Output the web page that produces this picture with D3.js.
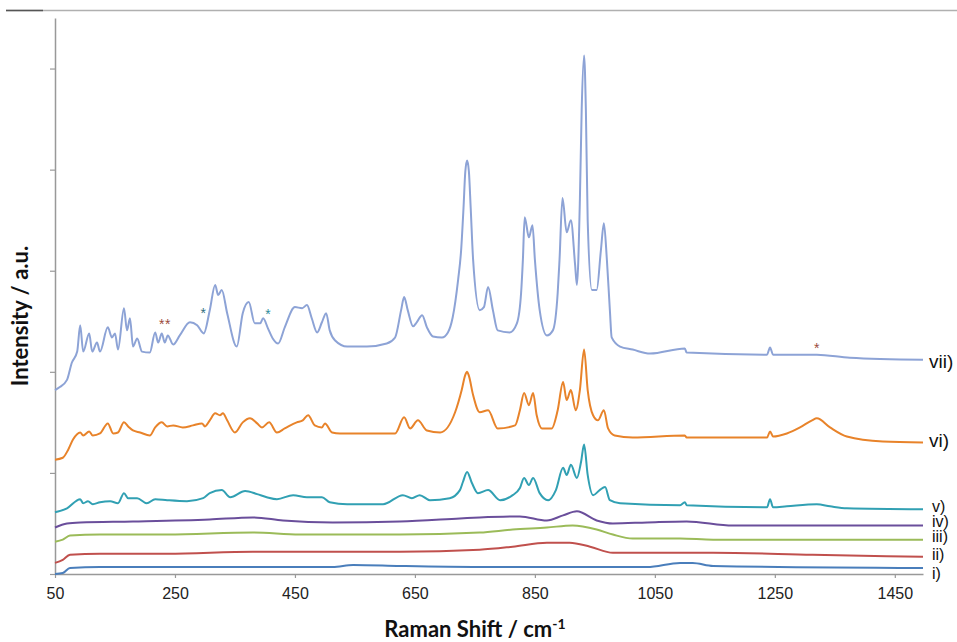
<!DOCTYPE html>
<html>
<head>
<meta charset="utf-8">
<script src="https://cdn.jsdelivr.net/npm/d3@7"></script>
<style>
  body { margin: 0; background: #fff; }
  .tick text { font-family: "Liberation Sans", Arial, sans-serif; font-size: 16px; fill: #222; }
  .axis-title { font-family: Lato, "Open Sans", sans-serif; font-weight: bold; font-size: 22px; fill: #111; }
  .series-label { font-family: "Liberation Sans", Arial, sans-serif; fill: #111; }
</style>
</head>
<body>
<div id="chart"></div>
<script>
// spectra: [Raman shift (cm-1), intensity (a.u., offset stacked)]
var specI = [[50,0.00],[63,0.01],[75,0.06],[125,0.07],[308,0.07],[513,0.07],[547,0.09],[625,0.08],
  [758,0.07],[1037,0.07],[1092,0.11],[1113,0.11],[1147,0.08],[1497,0.06]];

var specII = [[50,0.11],[63,0.14],[75,0.19],[125,0.20],[237,0.20],[380,0.22],[625,0.22],[758,0.24],
  [813,0.27],[870,0.31],[908,0.31],[942,0.27],[980,0.21],[1037,0.21],[1147,0.21],[1313,0.19],[1497,0.17]];

var specIII = [[50,0.32],[63,0.34],[75,0.38],[125,0.39],[237,0.39],[380,0.41],[458,0.39],[625,0.39],
  [758,0.41],[813,0.44],[870,0.46],[913,0.48],[953,0.44],[980,0.39],[1013,0.35],[1092,0.35],[1147,0.34],[1497,0.34]];

var specIV = [[50,0.46],[70,0.50],[92,0.51],[180,0.52],[308,0.54],[380,0.56],[430,0.53],[513,0.51],
  [625,0.52],[725,0.55],[758,0.56],[825,0.57],[870,0.53],[897,0.58],[920,0.62],[953,0.53],[980,0.50],
  [1037,0.51],[1103,0.52],[1180,0.48],[1313,0.48],[1497,0.48]];

var specV = [[50,0.61],[70,0.65],[92,0.74],[97,0.70],[105,0.72],[113,0.69],[125,0.71],[142,0.72],[155,0.70],
  [165,0.80],[172,0.75],[187,0.75],[203,0.70],[217,0.74],[237,0.73],[270,0.72],[297,0.75],[308,0.80],
  [328,0.83],[342,0.76],[367,0.82],[387,0.79],[403,0.76],[420,0.74],[447,0.78],[470,0.76],[495,0.76],
  [508,0.71],[537,0.69],[597,0.69],[630,0.78],[645,0.75],[658,0.78],[675,0.73],[708,0.75],[725,0.83],
  [730,0.91],[737,1.01],[745,0.90],[755,0.80],[772,0.83],[792,0.73],[813,0.78],[825,0.85],[832,0.95],
  [840,0.88],[847,0.95],[858,0.80],[872,0.73],[885,0.83],[897,1.05],[903,0.98],[910,1.08],[920,0.95],
  [927,1.11],[932,1.28],[938,0.98],[947,0.78],[958,0.83],[967,0.86],[975,0.73],[992,0.70],[1092,0.68],
  [1100,0.71],[1103,0.68],[1237,0.66],[1242,0.74],[1247,0.66],[1270,0.67],[1320,0.69],[1342,0.67],
  [1370,0.65],[1497,0.64]];

var specVI = [[50,1.13],[63,1.15],[72,1.23],[80,1.33],[92,1.40],[97,1.37],[107,1.41],[113,1.37],[125,1.39],
  [138,1.49],[147,1.39],[155,1.40],[165,1.50],[172,1.46],[180,1.42],[192,1.40],[208,1.37],[217,1.45],
  [228,1.50],[237,1.46],[247,1.47],[263,1.45],[280,1.47],[295,1.49],[300,1.46],[308,1.52],[317,1.59],
  [325,1.57],[330,1.59],[337,1.52],[350,1.40],[363,1.50],[375,1.54],[387,1.49],[395,1.45],[407,1.50],
  [420,1.40],[433,1.44],[453,1.50],[463,1.52],[472,1.57],[483,1.47],[495,1.45],[500,1.49],[512,1.40],
  [525,1.39],[558,1.39],[617,1.39],[632,1.55],[642,1.44],[655,1.52],[670,1.42],[692,1.40],[717,1.60],
  [728,1.82],[734,1.97],[737,2.00],[740,1.96],[747,1.77],[758,1.60],[772,1.62],[788,1.44],[817,1.47],
  [825,1.62],[832,1.79],[840,1.67],[847,1.79],[853,1.57],[862,1.44],[878,1.44],[888,1.62],[897,1.90],
  [903,1.72],[910,1.82],[918,1.62],[925,1.82],[932,2.22],[938,1.82],[947,1.57],[955,1.52],[965,1.62],
  [972,1.44],[983,1.37],[1013,1.35],[1100,1.37],[1103,1.35],[1180,1.35],[1237,1.35],[1242,1.41],
  [1247,1.36],[1270,1.39],[1292,1.45],[1312,1.52],[1320,1.54],[1342,1.45],[1370,1.36],[1430,1.31],[1497,1.30]];

var specVII = [[50,1.82],[58,1.85],[70,1.92],[78,2.09],[87,2.20],[92,2.46],[97,2.20],[107,2.38],[112,2.20],
  [120,2.29],[125,2.20],[138,2.44],[145,2.34],[150,2.38],[155,2.22],[165,2.63],[170,2.41],[175,2.53],
  [180,2.25],[187,2.33],[195,2.20],[208,2.19],[217,2.39],[222,2.29],[228,2.38],[233,2.29],[238,2.36],
  [247,2.27],[258,2.36],[275,2.49],[287,2.46],[298,2.38],[308,2.61],[317,2.86],[322,2.76],[328,2.81],
  [337,2.58],[353,2.25],[363,2.58],[373,2.69],[383,2.48],[392,2.48],[397,2.53],[405,2.43],[413,2.33],
  [422,2.28],[433,2.44],[450,2.64],[462,2.63],[470,2.66],[478,2.53],[487,2.39],[495,2.49],[502,2.58],
  [508,2.41],[517,2.31],[537,2.25],[570,2.25],[603,2.28],[617,2.34],[627,2.61],[632,2.74],[638,2.61],
  [647,2.45],[653,2.49],[662,2.56],[670,2.44],[680,2.35],[695,2.34],[705,2.39],[713,2.54],[722,2.91],
  [727,3.20],[731,3.62],[734,3.98],[737,4.09],[740,3.98],[743,3.62],[747,3.11],[758,2.61],[765,2.64],
  [772,2.84],[780,2.61],[788,2.41],[808,2.39],[820,2.48],[827,2.78],[830,3.11],[833,3.53],[840,3.33],
  [846,3.45],[850,3.11],[858,2.61],[870,2.36],[880,2.41],[888,2.78],[891,3.10],[896,3.72],[903,3.38],
  [910,3.50],[917,3.06],[920,2.86],[925,3.70],[928,4.59],[932,5.13],[935,4.59],[938,3.50],[945,2.81],
  [953,2.81],[960,3.20],[965,3.47],[970,3.11],[975,2.61],[978,2.34],[992,2.25],[1013,2.22],[1042,2.18],
  [1100,2.23],[1103,2.19],[1237,2.17],[1242,2.24],[1247,2.17],[1320,2.17],[1375,2.14],[1497,2.12]];

var seriesData = [specI, specII, specIII, specIV, specV, specVI, specVII];
var seriesNames = ["i)", "ii)", "iii)", "iv)", "v)", "vi)", "vii)"];
var seriesColors = ["#4a7ebb", "#c0504d", "#9bbb59", "#6a4e9b", "#31a0b3", "#e8832a", "#8da3d6"];
// where each right-hand label sits (a.u.)
var labelLevels = [0.01, 0.20, 0.37, 0.52, 0.67, 1.32, 2.11];

var xTicks = [50, 250, 450, 650, 850, 1050, 1250, 1450];
var yTicks = [0, 1, 2, 3, 4, 5];

// asterisks marking peaks on spectrum vii)
var starShift = [228, 238, 297, 405, 1320];
var starLevel = [2.50, 2.50, 2.61, 2.60, 2.27];
var starColors = ["#9a4b3b", "#9a4b3b", "#2f6f7f", "#2e8b9a", "#9a4b3b"];

var svgWidth = 957;
var svgHeight = 642;

var svg = d3.select("#chart")
  .append("svg")
  .attr("width", svgWidth)
  .attr("height", svgHeight);

// thin frame line along the top of the figure
svg.append("line")
  .attr("x1", 6).attr("x2", 957).attr("y1", 10.5).attr("y2", 10.5)
  .attr("stroke", "#b0b0b0").attr("stroke-width", 1.5);
svg.append("line")
  .attr("x1", 6).attr("x2", 43).attr("y1", 10.5).attr("y2", 10.5)
  .attr("stroke", "#555").attr("stroke-width", 1.5);

var x = d3.scaleLinear().domain([50, 1497]).range([55, 923]);
var y = d3.scaleLinear().domain([0, 5.5]).range([574, 18]);

// axes
var xAxis = svg.append("g")
  .attr("transform", "translate(0,574)")
  .call(d3.axisBottom(x).tickValues(xTicks).tickFormat(d3.format("d"))
    .tickSize(4).tickPadding(10).tickSizeOuter(0));

var yAxis = svg.append("g")
  .attr("transform", "translate(55,0)")
  .call(d3.axisLeft(y).tickValues(yTicks).tickSize(5).tickFormat("").tickSizeOuter(0));

[xAxis, yAxis].forEach(function(g) {
  g.select(".domain").attr("stroke", "#999").attr("stroke-width", 1.5);
  g.selectAll(".tick line").attr("stroke", "#999").attr("stroke-width", 1.2);
});

// spectra
var line = d3.line()
  .x(function(d) { return x(d[0]); })
  .y(function(d) { return y(d[1]); })
  .curve(d3.curveMonotoneX);

svg.append("g")
  .selectAll("path")
  .data(seriesData)
  .enter()
  .append("path")
  .attr("d", line)
  .attr("fill", "none")
  .attr("stroke", function(d, i) { return seriesColors[i]; })
  .attr("stroke-width", 2)
  .attr("stroke-linejoin", "round");

// series labels on the right (the lower five are packed tight, as in the figure)
svg.append("g")
  .selectAll("text")
  .data(seriesNames)
  .enter()
  .append("text")
  .attr("class", "series-label")
  .attr("x", function(d, i) { return i < 5 ? 932 : 929; })
  .attr("y", function(d, i) { return y(labelLevels[i]); })
  .attr("dy", "0.36em")
  .attr("font-size", function(d, i) { return i < 5 ? 16 : 19; })
  .text(function(d) { return d; });

// peak asterisks
svg.append("g")
  .selectAll("text")
  .data(starShift)
  .enter()
  .append("text")
  .attr("x", function(d) { return x(d); })
  .attr("y", function(d, i) { return y(starLevel[i]) + 8; })
  .attr("text-anchor", "middle")
  .attr("font-family", "Liberation Sans, Arial, sans-serif")
  .attr("font-size", 14)
  .attr("fill", function(d, i) { return starColors[i]; })
  .text("*");

// axis titles
var xTitle = svg.append("text")
  .attr("class", "axis-title")
  .attr("x", 475)
  .attr("y", 637)
  .attr("text-anchor", "middle");
xTitle.append("tspan").text("Raman Shift / cm");
xTitle.append("tspan").attr("dy", -8).attr("font-size", 14).text("-1");

svg.append("text")
  .attr("class", "axis-title")
  .attr("transform", "translate(28,316) rotate(-90)")
  .attr("text-anchor", "middle")
  .text("Intensity / a.u.");
</script>
</body>
</html>
